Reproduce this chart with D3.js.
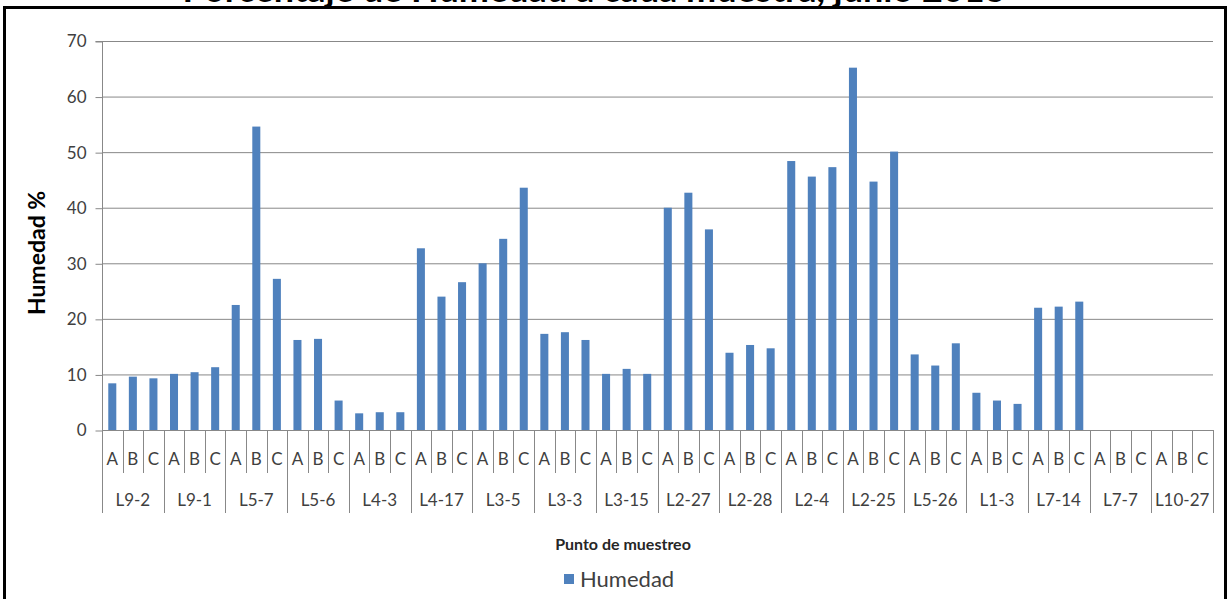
<!DOCTYPE html>
<html>
<head>
<meta charset="utf-8">
<script src="https://cdn.jsdelivr.net/npm/d3@7/dist/d3.min.js"></script>
<style>
  html, body { margin: 0; padding: 0; background: #fff; }
  svg { display: block; }
  text { font-family: Lato, "Open Sans", sans-serif; }
</style>
</head>
<body>
<svg id="chart" width="1229" height="599"></svg>
<script>
const titleText = "Porcentaje de Humedad a cada muestra, junio 2013";
const groups = ["L9-2","L9-1","L5-7","L5-6","L4-3","L4-17","L3-5","L3-3","L3-15","L2-27","L2-28","L2-4","L2-25","L5-26","L1-3","L7-14","L7-7","L10-27"];
const subs = ["A","B","C"];
const humedad = [
  8.4, 9.6, 9.3,
  10.1, 10.4, 11.3,
  22.5, 54.6, 27.2,
  16.2, 16.4, 5.3,
  3.0, 3.2, 3.2,
  32.7, 24.0, 26.6,
  30.0, 34.4, 43.6,
  17.3, 17.6, 16.2,
  10.1, 11.0, 10.1,
  40.0, 42.7, 36.1,
  13.9, 15.3, 14.7,
  48.4, 45.6, 47.3,
  65.2, 44.7, 50.1,
  13.6, 11.6, 15.6,
  6.7, 5.3, 4.7,
  22.0, 22.2, 23.1,
  null, null, null,
  null, null, null
];
const yTicks = [0, 10, 20, 30, 40, 50, 60, 70];
const seriesName = "Humedad";
const yTitle = "Humedad %";
const xTitle = "Punto de muestreo";

(function () {
const svg = d3.select("#chart");
const pLeft = 102, pRight = 1213, pTop = 41, pBottom = 430;
const cats = [];
groups.forEach(g => subs.forEach(s => cats.push(g + "|" + s)));
const data = cats.map((c, i) => ({ key: c, group: c.split("|")[0], sub: c.split("|")[1], value: humedad[i] }));

const xCell = d3.scaleBand().domain(cats).range([pLeft, pRight]).padding(0);
const xBar = d3.scaleBand().domain(cats).range([pLeft, pRight]).paddingInner(0.61).paddingOuter(0.305);
const xGroup = d3.scaleBand().domain(groups).range([pLeft, pRight]).padding(0);
const y = d3.scaleLinear().domain([0, 70]).range([pBottom, pTop]);

const gridColor = "#888888";
const axisColor = "#888888";

// frame
svg.append("rect").attr("x", 4.5).attr("y", 7.5).attr("width", 1221).attr("height", 620)
  .attr("fill", "none").attr("stroke", "#000").attr("stroke-width", 3);

// title (cut off at top, as in the source image)
svg.append("text").attr("x", 594).attr("y", 2).attr("text-anchor", "middle")
  .attr("font-size", 36).attr("font-weight", "bold").attr("fill", "#000").text(titleText);
svg.append("line").attr("x1", 3).attr("x2", 1227).attr("y1", 7.5).attr("y2", 7.5)
  .attr("stroke", "#000").attr("stroke-width", 3);

// gridlines
svg.append("g").selectAll("line").data(yTicks.filter(t => t > 0)).join("line")
  .attr("x1", pLeft).attr("x2", pRight).attr("y1", d => y(d) + 0.5).attr("y2", d => y(d) + 0.5)
  .attr("stroke", gridColor).attr("stroke-width", 1);

// y axis
const yAxis = d3.axisLeft(y).tickValues(yTicks).tickSize(7).tickPadding(9).tickFormat(d3.format("d"));
const gy = svg.append("g").attr("transform", `translate(${pLeft + 0.5},0.5)`).call(yAxis);
gy.select(".domain").attr("stroke", axisColor).attr("d", `M-7,${pTop}H0V${pBottom}`);
gy.selectAll(".tick line").attr("stroke", axisColor);
gy.selectAll(".tick text").attr("font-size", 17).attr("fill", "#404040")
  .attr("font-family", "Lato, 'Open Sans', sans-serif");

// bars
svg.append("g").selectAll("rect").data(data.filter(d => d.value != null)).join("rect")
  .attr("x", d => xBar(d.key)).attr("width", xBar.bandwidth())
  .attr("y", d => y(d.value)).attr("height", d => y(0) - y(d.value))
  .attr("fill", "#4F81BD");

// x axis line
svg.append("line").attr("x1", pLeft).attr("x2", pRight).attr("y1", pBottom + 0.5).attr("y2", pBottom + 0.5)
  .attr("stroke", axisColor).attr("stroke-width", 1);

// category separators
const boundaries = cats.map((c, i) => ({ x: xCell(c), isGroup: i % 3 === 0 }));
boundaries.push({ x: pRight, isGroup: true });
svg.append("g").selectAll("line").data(boundaries).join("line")
  .attr("x1", d => Math.round(d.x) + 0.5).attr("x2", d => Math.round(d.x) + 0.5)
  .attr("y1", pBottom).attr("y2", d => d.isGroup ? 513 : 473)
  .attr("stroke", axisColor).attr("stroke-width", 1);

// sub labels
svg.append("g").selectAll("text").data(data).join("text")
  .attr("x", d => xCell(d.key) + xCell.bandwidth() / 2).attr("y", 465)
  .attr("text-anchor", "middle").attr("font-size", 17).attr("fill", "#404040").text(d => d.sub);

// group labels
svg.append("g").selectAll("text").data(groups).join("text")
  .attr("x", d => xGroup(d) + xGroup.bandwidth() / 2).attr("y", 506)
  .attr("text-anchor", "middle").attr("font-size", 17).attr("fill", "#404040").text(d => d);

// axis titles
svg.append("text").attr("x", 623).attr("y", 550).attr("text-anchor", "middle")
  .attr("font-size", 16).attr("font-weight", "bold").attr("fill", "#262626").text(xTitle);
svg.append("text").attr("transform", "translate(45,253) rotate(-90)").attr("text-anchor", "middle")
  .attr("font-size", 23).attr("font-weight", "bold").attr("fill", "#000").text(yTitle);

// legend
svg.append("rect").attr("x", 564).attr("y", 574).attr("width", 10).attr("height", 10).attr("fill", "#4F81BD");
svg.append("text").attr("x", 580).attr("y", 587).attr("font-size", 22).attr("fill", "#404040").text(seriesName);
})();
</script>
</body>
</html>
